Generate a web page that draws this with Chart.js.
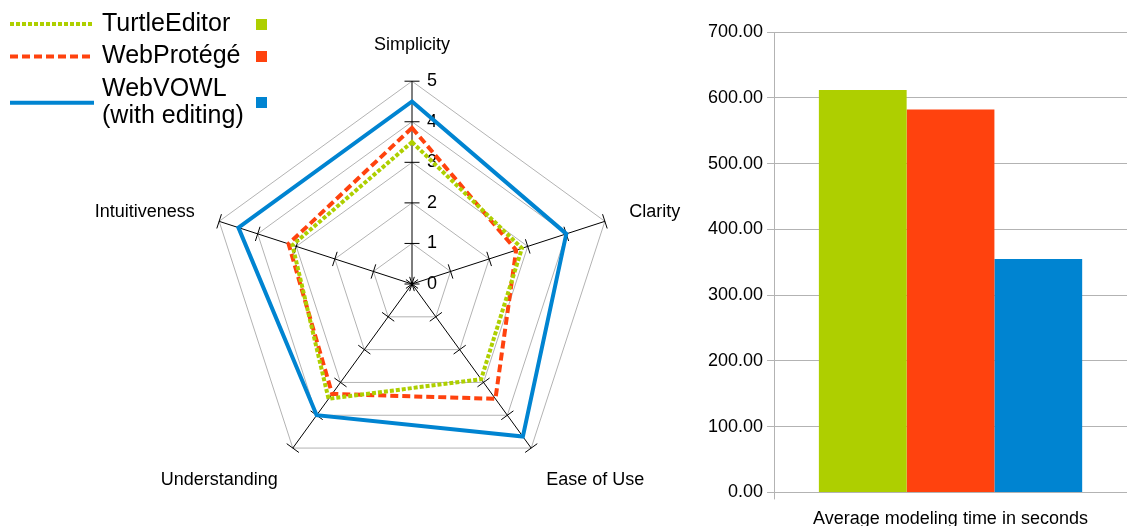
<!DOCTYPE html>
<html>
<head>
<meta charset="utf-8">
<script src="https://cdn.jsdelivr.net/npm/chart.js@4.4.1/dist/chart.umd.min.js"></script>
<style>
  html, body { margin: 0; padding: 0; background: #fff; overflow: hidden; }
  #wrap { position: relative; width: 1127px; height: 526px; overflow: hidden; }
  #radarBox { position: absolute; left: 0; top: 0; width: 824px; height: 526px; }
  #barBox { position: absolute; left: 700px; top: 0; width: 427px; height: 539px; }
</style>
</head>
<body>
<div id="wrap">
  <div id="radarBox"><canvas id="radar"></canvas></div>
  <div id="barBox"><canvas id="bar"></canvas></div>
</div>
<script>
// Evaluation criteria (radar axes) and rating scale
const criteria = ['Simplicity', 'Clarity', 'Ease of Use', 'Understanding', 'Intuitiveness'];
const ratingTicks = [0, 1, 2, 3, 4, 5];

// Tools compared
const toolNames = ['TurtleEditor', 'WebProtégé', 'WebVOWL\n(with editing)'];
const toolColors = ['#aecf00', '#ff420e', '#0084d1'];

// Average ratings per criterion
const turtleEditorScores = [3.5, 2.85, 2.9, 3.5, 3.1];
const webProtegeScores   = [3.85, 2.7, 3.5, 3.35, 3.2];
const webVowlScores      = [4.5, 4.0, 4.65, 4.0, 4.5];

// Average modeling time (seconds) per tool
const timeCategory = ['Average modeling time in seconds'];
const modelingTimes = [612, 582, 355];
const timeTicks = [0, 100, 200, 300, 400, 500, 600, 700];

const FONT = '"Liberation Sans", Arial, Helvetica, sans-serif';
Chart.defaults.font.family = FONT;
Chart.defaults.color = '#000';

const lineDashes = [[4, 2], [8, 4], []];
const scoreSeries = [turtleEditorScores, webProtegeScores, webVowlScores];

// Cross marks on every spoke plus the value labels beside the vertical spoke
const radarAxisMarks = {
  id: 'radarAxisMarks',
  beforeDatasetsDraw(chart) {
    const s = chart.scales.r;
    const ctx = chart.ctx;
    ctx.save();
    ctx.strokeStyle = '#000';
    ctx.lineWidth = 1;
    const n = chart.data.labels.length;
    for (let i = 0; i < n; i++) {
      const a = s.getIndexAngle(i) - Math.PI / 2;
      const px = -Math.sin(a), py = Math.cos(a);
      s.ticks.forEach(t => {
        const p = s.getPointPositionForValue(i, t.value);
        ctx.beginPath();
        ctx.moveTo(p.x - px * 7.5, p.y - py * 7.5);
        ctx.lineTo(p.x + px * 7.5, p.y + py * 7.5);
        ctx.stroke();
      });
    }
    ctx.fillStyle = '#000';
    ctx.font = '18px ' + FONT;
    ctx.textAlign = 'left';
    ctx.textBaseline = 'middle';
    s.ticks.forEach(t => {
      const p = s.getPointPositionForValue(0, t.value);
      ctx.fillText(String(t.value), p.x + 15, p.y);
    });
    ctx.restore();
  }
};

// Legend: line sample, name, colour square
const sideLegend = {
  id: 'sideLegend',
  afterDraw(chart) {
    const ctx = chart.ctx;
    const textLine = 27.5, rowGap = 5;
    let top = 24 - (textLine + rowGap) / 2;
    ctx.save();
    ctx.font = '25px ' + FONT;
    ctx.textBaseline = 'middle';
    ctx.textAlign = 'left';
    chart.data.datasets.forEach(ds => {
      const lines = ds.label.split('\n');
      const h = lines.length * textLine + rowGap;
      const cy = top + h / 2;
      ctx.strokeStyle = ds.borderColor;
      ctx.lineWidth = ds.borderWidth;
      ctx.setLineDash(ds.borderDash || []);
      ctx.lineCap = 'butt';
      ctx.beginPath();
      ctx.moveTo(10, cy);
      ctx.lineTo(94, cy);
      ctx.stroke();
      ctx.setLineDash([]);
      ctx.fillStyle = '#000';
      lines.forEach((ln, k) => {
        ctx.fillText(ln, 102, cy + (k - (lines.length - 1) / 2) * textLine);
      });
      ctx.fillStyle = ds.borderColor;
      ctx.fillRect(256, Math.round(cy - 5.5), 11, 11);
      top += h;
    });
    ctx.restore();
  }
};

new Chart(document.getElementById('radar'), {
  type: 'radar',
  data: {
    labels: criteria,
    datasets: toolNames.map((name, i) => ({
      label: name,
      data: scoreSeries[i],
      borderColor: toolColors[i],
      backgroundColor: 'transparent',
      borderWidth: 4,
      borderDash: lineDashes[i],
      borderCapStyle: 'butt',
      borderJoinStyle: 'miter',
      fill: false,
      pointRadius: 0,
      pointHoverRadius: 0,
      tension: 0
    }))
  },
  options: {
    responsive: true,
    maintainAspectRatio: false,
    animation: false,
    events: [],
    layout: { padding: { top: 11, bottom: 15, left: 0, right: 0 } },
    plugins: { legend: { display: false }, tooltip: { enabled: false } },
    scales: {
      r: {
        min: 0,
        max: 5,
        afterBuildTicks: s => { s.ticks = ratingTicks.map(v => ({ value: v })); },
        ticks: { display: false },
        grid: { color: '#b3b3b3', lineWidth: 1 },
        angleLines: { color: '#000', lineWidth: 1 },
        pointLabels: {
          color: '#000',
          padding: 25.6,
          font: c => ({ size: 18, family: FONT, lineHeight: (c.index === 1 || c.index === 4) ? 0.15 : 1.2 })
        }
      }
    }
  },
  plugins: [radarAxisMarks, sideLegend]
});

new Chart(document.getElementById('bar'), {
  type: 'bar',
  data: {
    labels: timeCategory,
    datasets: toolNames.map((name, i) => ({
      label: name,
      data: [modelingTimes[i]],
      backgroundColor: toolColors[i],
      borderWidth: 0,
      categoryPercentage: 0.746,
      barPercentage: 1.0
    }))
  },
  options: {
    responsive: true,
    maintainAspectRatio: false,
    animation: false,
    events: [],
    layout: { padding: { left: 4, top: 32, right: 0, bottom: 0 } },
    plugins: { legend: { display: false }, tooltip: { enabled: false } },
    scales: {
      x: {
        grid: { color: '#b3b3b3', tickLength: 7, offset: true },
        border: { color: '#b3b3b3' },
        ticks: { font: { size: 18 }, color: '#000', padding: 9 }
      },
      y: {
        min: 0,
        max: 700,
        afterBuildTicks: s => { s.ticks = timeTicks.map(v => ({ value: v })); },
        grid: { color: '#b3b3b3', tickLength: 7 },
        border: { color: '#b3b3b3' },
        ticks: { font: { size: 18 }, color: '#000', padding: 4, callback: v => Number(v).toFixed(2) }
      }
    }
  }
});
</script>
</body>
</html>
